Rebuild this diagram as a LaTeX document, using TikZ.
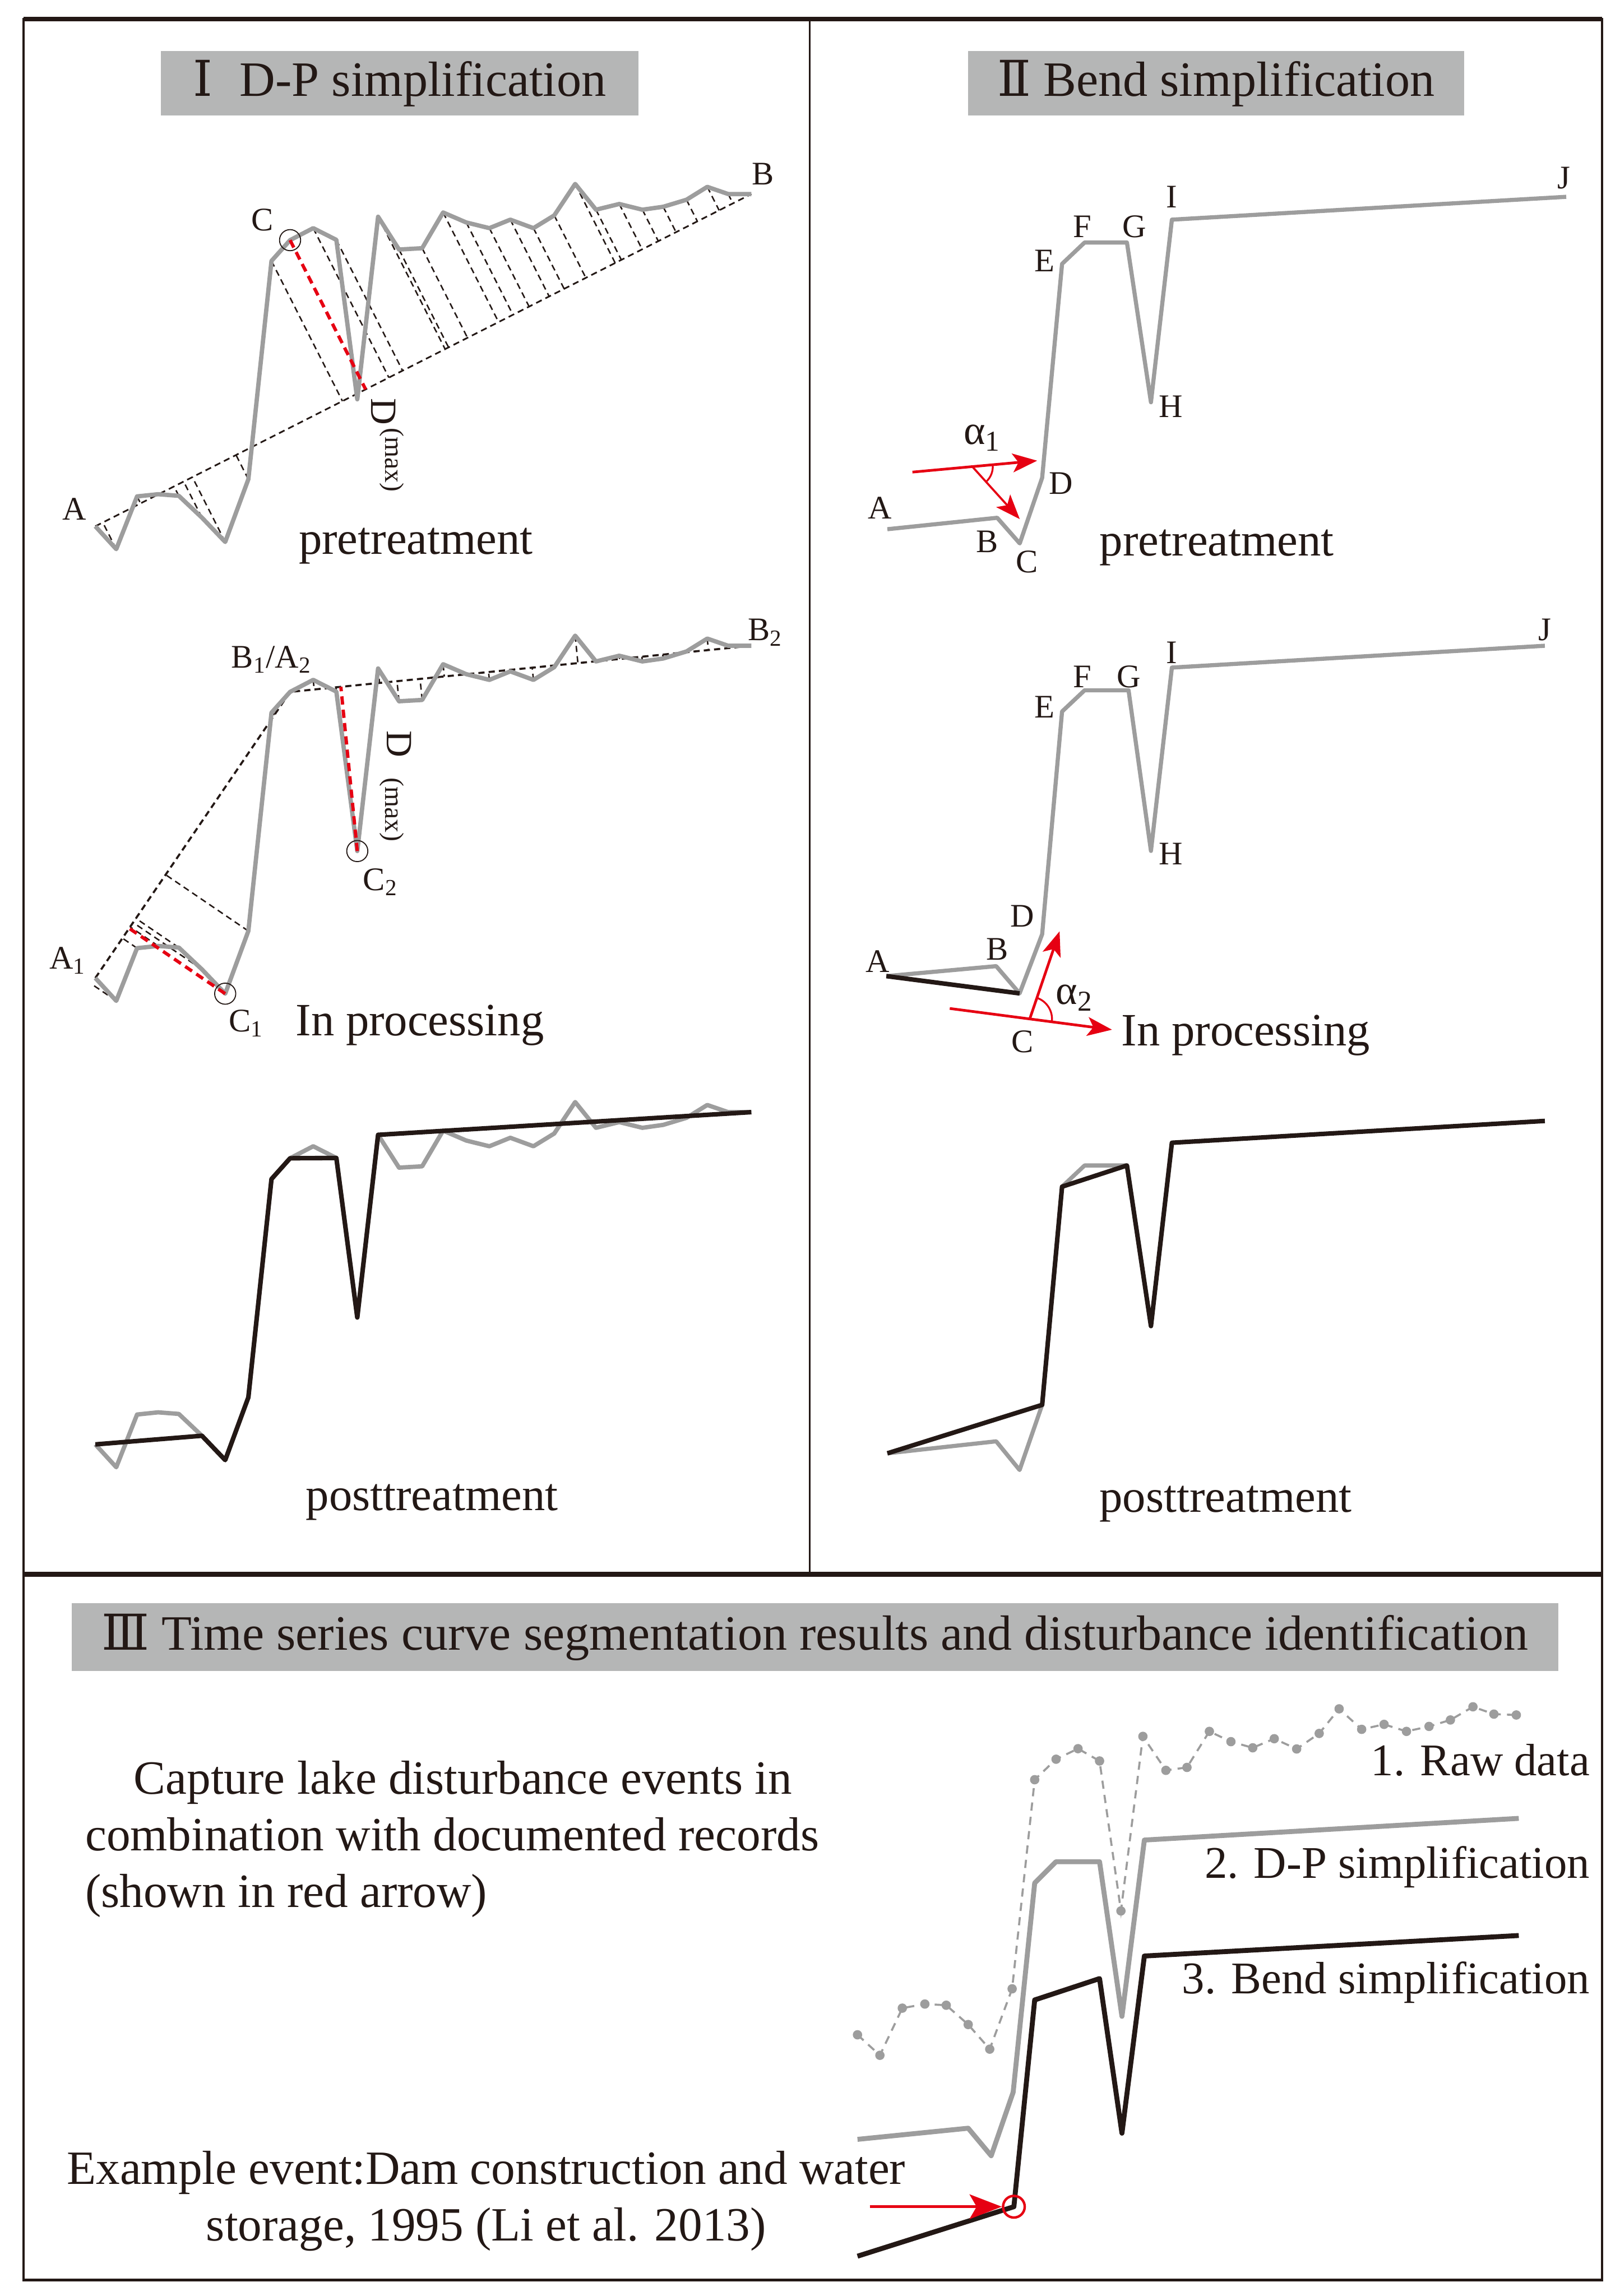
\documentclass[tikz,border=0pt]{standalone}
\usepackage{fontspec}
\setmainfont{Liberation Serif}
\newfontfamily\numfont{DejaVu Serif}
\usepackage{tikz}
\usetikzlibrary{arrows.meta,calc,angles}
\definecolor{ink}{HTML}{231815}
\definecolor{curvegray}{HTML}{9D9D9D}
\definecolor{boxgray}{HTML}{B5B6B6}
\definecolor{alertred}{HTML}{E60012}

\newcommand\bodysize{\fontsize{22.5}{27}\selectfont}
\newcommand\notesize{\fontsize{23.2}{27.5}\selectfont}
\newcommand\legendsize{\fontsize{22}{26}\selectfont}
\newcommand\titlesize{\fontsize{24}{29}\selectfont}
\newcommand\lblsize{\fontsize{16}{19}\selectfont}

% raw series of panel I (pretreatment position)
\newcommand\rawdata{65.1/359.4, 79.4/375.0, 93.6/339.0, 108/337.5, 122.1/338.6,
  137.9/353.5, 153.8/370.1, 169.6/327.3, 185.4/178.2, 198.1/164.0, 213.9/155.8,
  229.7/163.8, 244/272.7, 258.2/148.0, 272.5/170.4, 288.3/169.5, 302.6/145.1,
  318.4/151.9, 334.2/155.8, 348.5/150.0, 364.3/155.8, 378.5/147.1, 392.8/125.6,
  407.0/143.2, 422.9/139.3, 438.7/143.2, 452.9/141.2, 468.8/136.4, 483.0/127.6,
  497.3/132.5, 513.1/132.5}
% raw series of panel III
\newcommand\seriesraw{585.6/1389.6, 600.9/1403.6, 616.2/1371.4, 631.6/1368.6,
  646.2/1369.4, 661.2/1382.6, 675.9/1399.4, 691.2/1358.2, 706.6/1215.4,
  721.2/1201.4, 736.2/1194.2, 750.9/1202.6, 765.5/1305.0, 780.5/1185.8,
  796.2/1209.0, 810.6/1207.0, 825.9/1182.4, 840.6/1189.4, 855.5/1193.6,
  870.2/1187.4, 885.5/1194.4, 900.9/1183.8, 914.5/1167.0, 929.9/1181.0,
  945.2/1177.6, 960.5/1182.4, 975.9/1179.0, 990.5/1174.6, 1005.9/1165.6,
  1020.2/1170.6, 1035.5/1171.2}

\tikzset{
  titlebox/.style={fill=boxgray,inner sep=0pt,font=\titlesize},
  lbl/.style={font=\lblsize,inner sep=1pt},
  rawline/.style={curvegray,line width=2.1pt,line join=round},
  bendline/.style={curvegray,line width=2pt,line join=round},
  simpline/.style={ink,line width=2.2pt,line join=round},
  chord/.style={ink,line width=0.8pt,dash pattern=on 3pt off 2pt},
  perp/.style={ink,line width=0.7pt,dash pattern=on 3pt off 2pt},
  maxperp/.style={alertred,line width=1.6pt,dash pattern=on 4pt off 2.5pt},
  ring/.style={circle,draw=ink,line width=0.5pt,minimum size=0.36cm,inner sep=0pt},
  redarrow/.style={alertred,line width=1.3pt,-{Stealth[length=0.42cm,width=0.32cm,inset=0.1cm]}},
}

\begin{document}
\begin{tikzpicture}[x=0.025cm,y=-0.025cm,every node/.append style={text=ink}]
  \useasboundingbox (0,0) rectangle (1106,1568);

  % frame
  \draw[ink,line width=1.2pt] (16,13) rectangle (1094,1557);
  \draw[ink,line width=2.4pt] (16,13) -- (1094,13);
  \draw[ink,line width=2.4pt] (16,1075) -- (1094,1075);
  \draw[ink,line width=0.9pt] (553,13) -- (553,1075);

  % titles
  \node[titlebox,minimum width=8.15cm,minimum height=1.1cm] (titleone) at (273,57)
    {{\numfont Ⅰ}\hspace{0.25cm} D-P simplification};
  \node[titlebox,minimum width=8.475cm,minimum height=1.1cm] (titletwo) at (830.5,57)
    {{\numfont Ⅱ} Bend simplification};
  \node[titlebox,minimum width=25.375cm,minimum height=1.15cm] (titlethree) at (556.5,1118)
    {{\numfont Ⅲ} Time series curve segmentation results and disturbance identification};

  % ---- panel I ----
  \foreach \x/\y [count=\i] in \rawdata {
    \coordinate (a\i) at (\x,\y);
    \coordinate (b\i) at (\x,\y+308.5);
    \coordinate (c\i) at (\x,\y+627);
  }

  % pretreatment
  \draw[chord] (a1) -- (a31);
  \foreach \i in {2,...,30} {
    \ifnum\i=10\else \draw[perp] (a\i) -- ($(a1)!(a\i)!(a31)$);\fi
  }
  \draw[rawline] (a1) \foreach \i in {2,...,31} {-- (a\i)};
  \draw[maxperp] (a10) -- ($(a1)!(a10)!(a31)$) coordinate (dfoot);
  \node[ring] (cmark) at (a10) {};
  \node[lbl] (lA) at (50.9,347.7) {A};
  \node[lbl] (lB) at (521,118.8) {B};
  \node[lbl] (lC) at (179.1,150) {C};
  \node[font=\fontsize{18}{20}\selectfont,rotate=-90,inner sep=0pt] (lD) at (262,281) {D};
  \node[font=\fontsize{13}{15}\selectfont,rotate=-90,inner sep=0pt] (lmax) at (267.7,314) {(max)};
  \node[font=\bodysize] (pretreatone) at (284,373) {pretreatment};

  % in processing
  \foreach \i in {2,...,9} {
    \ifnum\i=7\else \draw[perp] (b\i) -- ($(b1)!(b\i)!(b10)$);\fi
  }
  \foreach \i in {11,...,30} {
    \ifnum\i=13\else \draw[perp] (b\i) -- ($(b10)!(b\i)!(b31)$);\fi
  }
  \draw[chord,line width=1pt] (b1) -- (b10) -- (b31);
  \draw[rawline] (b1) \foreach \i in {2,...,31} {-- (b\i)};
  \draw[maxperp] (b7) -- ($(b1)!(b7)!(b10)$);
  \draw[maxperp] (b13) -- ($(b10)!(b13)!(b31)$);
  \node[ring] (conemark) at (b7) {};
  \node[ring] (ctwomark) at (b13) {};
  \node[lbl] (lBA) at (185.4,450.4) {B\textsubscript{1}/A\textsubscript{2}};
  \node[lbl] (lAone) at (46.1,655.9) {A\textsubscript{1}};
  \node[lbl] (lCone) at (168,698.8) {C\textsubscript{1}};
  \node[lbl] (lCtwo) at (259.8,602.3) {C\textsubscript{2}};
  \node[lbl] (lBtwo) at (522.6,431.9) {B\textsubscript{2}};
  \node[font=\fontsize{18}{20}\selectfont,rotate=-90,inner sep=0pt] (lDtwo) at (272.5,508) {D};
  \node[font=\fontsize{13}{15}\selectfont,rotate=-90,inner sep=0pt] (lmaxtwo) at (267.7,553) {(max)};
  \node[font=\bodysize,anchor=west] (procone) at (197,700) {In processing};

  % posttreatment
  \draw[rawline] (c1) \foreach \i in {2,...,31} {-- (c\i)};
  \draw[simpline] (c1) -- (c6) -- (c7) -- (c8) -- (c9) -- (c10) -- (c12) -- (c13) -- (c14) -- (c31);
  \node[font=\bodysize] (postone) at (295,1026) {posttreatment};

  % ---- panel II ----
  % pretreatment
  \foreach \n/\x/\y in {A/606.0/361.4, B/681.0/353.6, C/696.4/371.1, D/711.7/326.3,
      E/725.3/180.2, F/740.7/165.6, G/769.6/165.6, H/786.0/274.7, I/800.3/150.0, J/1069.6/134.4}
    \coordinate (p\n) at (\x,\y);
  \draw[bendline] (pA) -- (pB) -- (pC) -- (pD) -- (pE) -- (pF) -- (pG) -- (pH) -- (pI) -- (pJ);
  \foreach \n/\x/\y in {A/600.9/346.7, B/674.2/370.1, C/701.5/383.8, D/724.6/330.2,
      E/713.4/178.2, F/739/154.9, G/774.8/154.9, H/799.6/277.6, I/800.3/134.4, J/1067.9/121.7}
    \node[lbl] (lp\n) at (\x,\y) {\n};
  \coordinate (uones) at (623.1,322.4);
  \coordinate (uonee) at (708.3,314.6);
  \coordinate (uoneo) at ($(uones)!0.48!(uonee)$);
  \coordinate (utwoe) at (696.4,354.5);
  \draw[redarrow] (uones) -- (uonee);
  \draw[redarrow,line width=1pt] (uoneo) -- (utwoe);
  \pic[draw=alertred,line width=0.9pt,angle radius=0.35cm] {angle=utwoe--uoneo--uonee};
  \node[font=\fontsize{20}{22}\selectfont] (lalphaone) at (670.8,299) {α\textsubscript{1}};
  \node[font=\bodysize] (pretreattwo) at (831,374) {pretreatment};

  % in processing
  \foreach \n/\x/\y in {A/605.3/666.6, B/680.3/659.8, C/696.3/678.4, D/711.7/638.0,
      E/725.3/485.9, F/740.7/471.4, G/770.7/471.4, H/786.0/581.1, I/800.3/455.9, J/1055/441.0}
    \coordinate (q\n) at (\x,\y);
  \draw[bendline] (qA) -- (qB) -- (qC) -- (qD) -- (qE) -- (qF) -- (qG) -- (qH) -- (qI) -- (qJ);
  \draw[simpline] (qA) -- (qC);
  \foreach \n/\x/\y in {A/599.2/656.7, B/681/648.4, C/698.1/711.5, D/698.1/625.6,
      E/713.4/482.8, F/739/462.1, G/770.7/462.1, H/799.6/583.2, I/800.3/445.5, J/1055/430}
    \node[lbl] (lq\n) at (\x,\y) {\n};
  \coordinate (vones) at (648.6,688.7);
  \coordinate (vonee) at (759.4,703.2);
  \coordinate (voneo) at ($(vones)!0.493!(vonee)$);
  \coordinate (vtwoe) at (723.6,636.0);
  \draw[redarrow] (vones) -- (vonee);
  \draw[redarrow] (voneo) -- (vtwoe);
  \pic[draw=alertred,line width=0.9pt,angle radius=0.38cm] {angle=vonee--voneo--vtwoe};
  \node[font=\fontsize{20}{22}\selectfont] (lalphatwo) at (733.8,681.5) {α\textsubscript{2}};
  \node[font=\bodysize,anchor=west] (proctwo) at (761,707) {In processing};

  % posttreatment
  \foreach \n/\x/\y in {A/606/992.5, B/680.3/984.3, C/696.3/1003.9, D/711.7/959.4,
      E/725.3/810.4, F/740.7/795.9, G/769.6/795.9, H/786/905.6, I/800.3/780.4, J/1055/765.5}
    \coordinate (r\n) at (\x,\y);
  \draw[bendline] (rA) -- (rB) -- (rC) -- (rD) -- (rE) -- (rF) -- (rG);
  \draw[simpline] (rA) -- (rD) -- (rE) -- (rG) -- (rH) -- (rI) -- (rJ);
  \node[font=\bodysize] (posttwo) at (837,1027) {posttreatment};

  % ---- panel III ----
  \foreach \x/\y [count=\i] in \seriesraw
    \coordinate (s\i) at (\x,\y);
  \draw[curvegray,line width=1pt,dash pattern=on 4pt off 3pt] (s1) \foreach \i in {2,...,31} {-- (s\i)};
  \foreach \i in {1,...,31}
    \fill[curvegray] (s\i) circle[radius=0.08cm];
  \foreach \x/\y [count=\i] in {585.6/1461.0, 661.2/1453.4, 676.9/1472.2, 691.9/1428.8,
      706.6/1286.0, 721.2/1271.4, 750.9/1271.4, 766.2/1377.0, 781.5/1256.6, 1037.2/1241.8}
    \coordinate (d\i) at (\x,\y);
  \draw[curvegray,line width=2.4pt,line join=round] (d1) \foreach \i in {2,...,10} {-- (d\i)};
  \foreach \x/\y [count=\i] in {585.6/1540.8, 692.4/1507.0, 706.6/1365.8, 750.9/1351.2,
      766.2/1456.8, 781.5/1335.8, 1037.2/1321.8}
    \coordinate (e\i) at (\x,\y);
  \draw[ink,line width=2.4pt,line join=round] (e1) \foreach \i in {2,...,7} {-- (e\i)};
  \node[circle,draw=alertred,line width=1.2pt,minimum size=0.37cm,inner sep=0pt] (evmark) at (e2) {};
  \coordinate (evtail) at (594,1507);
  \draw[alertred,line width=1.4pt,-{Stealth[length=0.55cm,width=0.42cm,inset=0.12cm]}] (evtail) -- (evmark.west);

  \node[font=\legendsize,anchor=east,inner sep=0pt] (rawlbl) at (1086,1202) {1. Raw data};
  \node[font=\legendsize,anchor=east,inner sep=0pt] (dplbl) at (1086,1275) {2. D-P simplification};
  \node[font=\legendsize,anchor=east,inner sep=0pt] (bendlbl) at (1086,1354) {3. Bend simplification};
  \node[font=\notesize,align=left,anchor=west,inner sep=0pt] (capture) at (58,1256)
    {\hspace*{0.83cm}Capture lake disturbance events in\\combination with documented records\\(shown in red arrow)};
  \node[font=\notesize,align=center,inner sep=0pt] (example) at (332,1503)
    {Example event:Dam construction and water\\storage, 1995 (Li et al. 2013)};
\end{tikzpicture}
\end{document}
